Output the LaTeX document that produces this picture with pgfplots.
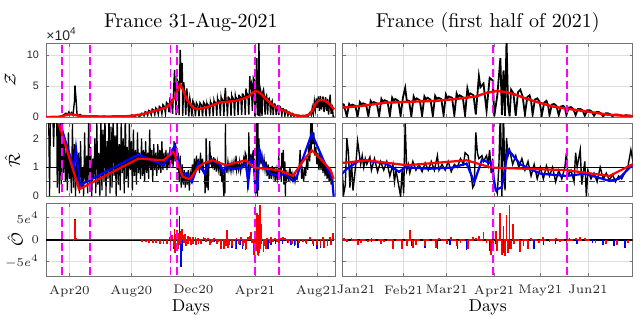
\documentclass[border=0pt]{standalone}
\usepackage{fontspec}
\setsansfont{Liberation Sans}
\usepackage{pgfplots}
\usepackage{pgfplotstable}
\pgfplotsset{compat=1.18}
\definecolor{mag}{rgb}{1,0,1}

\pgfplotstableread[row sep=\\]{d v\\
45 0\\ 60 0\\ 70 0.05\\ 75 0.15\\ 80 0.35\\ 84 0.6\\ 87 0.3\\ 90 0.8\\ 92 0.4\\ 95 0.7\\ 98 0.3\\ 101 2.5\\ 102 5.1\\ 104 3.0\\ 106 0.5\\ 108 0.2\\ 112 0.4\\ 116 0.1\\ 120 0.2\\ 130 0.05\\ 140 0.1\\ 150 0.0\\ 160 0.15\\ 165 0.0\\ 175 0.1\\ 185 0.0\\ 195 0.1\\ 205 0.05\\ 215 0.3\\ 220 0.1\\ 225 0.4\\ 228 0.15\\
231 0.16\\ 233 0.6\\ 236 0.54\\ 238 0.21\\ 240 0.83\\ 243 0.74\\ 245 0.27\\ 247 1.06\\ 250 0.92\\ 252 0.34\\ 254 1.28\\ 257 1.08\\ 259 0.39\\ 261 1.48\\ 264 1.24\\ 266 0.45\\ 268 1.71\\ 271 1.45\\ 273 0.52\\ 275 1.99\\ 278 1.67\\ 280 0.6\\ 282 2.35\\ 285 2.07\\ 287 0.77\\ 289 2.96\\ 292 2.72\\ 294 0.5\\ 296 4.2\\ 298 7.6\\ 300 3.0\\ 301 0.3\\ 303 6.0\\ 305 5.5\\ 307 0.3\\ 309 10.8\\ 311 5.5\\ 313 8.7\\ 314 0.2\\ 316 5.6\\ 318 4.0\\ 320 0.3\\ 322 4.6\\ 324 2.6\\ 326 0.1\\ 328 3.0\\ 330 2.0\\ 332 0.1\\ 334 2.6\\ 337 2.0\\ 339 0.1\\ 341 2.3\\ 344 1.8\\ 346 0.1\\ 348 2.3\\ 351 1.9\\ 353 0.1\\ 355 2.4\\ 358 2.0\\
360 0.1\\ 361.5 2.1\\ 362.5 1.7\\ 363.5 2.0\\ 365.5 1.8\\ 367 0.1\\ 368.5 2.4\\ 369.5 2.0\\ 370.5 2.2\\ 372.5 2.0\\ 374 0.15\\ 375.5 2.6\\ 376.5 2.2\\ 377.5 2.4\\ 379.5 2.2\\ 381 0.2\\ 382.5 2.9\\ 383.5 2.4\\ 384.5 2.7\\ 386.5 2.5\\ 388 0.2\\ 389.5 3.1\\ 390.5 2.6\\ 391.5 2.9\\ 393.5 2.6\\ 395 0.2\\ 396.5 3.1\\ 398 4.7\\ 399 2.7\\ 400.5 2.6\\ 402 0.1\\ 403.5 3.3\\ 404.5 2.7\\ 405.5 3.0\\ 407.5 2.7\\ 409 0.2\\ 410.5 3.3\\ 411.5 2.8\\ 412.5 3.1\\ 414.5 2.8\\ 416 0.2\\ 417.5 3.4\\ 418.5 2.9\\ 419.5 3.1\\ 421.5 2.9\\ 423 0.3\\ 424.5 3.6\\ 425.5 3.0\\ 426.5 3.3\\ 428.5 3.1\\ 430 0.3\\ 431.5 3.8\\ 432.5 3.2\\ 433.5 3.5\\ 435.5 3.2\\ 437 0.3\\ 438.5 4.6\\ 439.5 3.5\\ 440.5 3.8\\ 442.5 3.5\\
444 0.4\\ 446 6.6\\ 447 4.8\\ 449 5.4\\ 451 1.0\\ 453 6.3\\ 455 5.9\\ 456 0.1\\ 458 3.5\\ 460 9.5\\ 461 0.3\\ 462 7.5\\ 463 0.2\\ 464 12.5\\ 465 2.0\\
466 0.1\\ 467 4.4\\ 468.5 3.8\\ 470 0.2\\ 471.5 4.0\\ 473 4.4\\ 474.5 3.3\\ 476 0.4\\ 477.5 3.2\\ 479 3.5\\ 480 2.6\\ 481 0.4\\ 482.5 2.8\\ 484 3.0\\ 485.5 2.5\\ 487 0.3\\ 488.5 2.3\\ 490 2.6\\ 491 2.0\\ 492 0.3\\ 493.5 2.0\\ 495 2.1\\ 496.5 1.8\\ 498 0.3\\ 499.5 1.7\\ 501 1.8\\ 502 1.5\\ 503 0.3\\ 504.5 1.5\\ 506 1.6\\ 507.5 1.3\\ 509 0.3\\ 510.5 1.3\\ 512 1.3\\ 513.5 1.1\\ 515 0.2\\ 516.5 1.1\\ 518 1.1\\ 519.5 0.9\\ 521 0.2\\ 522.5 0.8\\ 524 0.8\\ 525.5 0.6\\ 527 0.1\\ 528.5 0.6\\ 530 0.6\\ 531.5 0.45\\ 533 0.1\\ 534.5 0.4\\ 536 0.4\\ 538 0.3\\ 540 0.1\\ 541.5 0.3\\ 543 0.25\\ 544.5 0.2\\ 546 0.05\\ 548 0.2\\ 550 0.25\\ 552 0.15\\ 554 0.05\\ 556 0.25\\ 557 0.3\\ 559 0.2\\ 561 0.1\\ 562.5 0.5\\ 564 0.7\\ 567 0.3\\ 569 1.5\\ 571 0.5\\ 573 2.5\\ 575 1.2\\ 577 3.0\\ 579 1.5\\ 581 3.3\\ 583 1.0\\ 585 3.4\\ 587 1.2\\ 590 3.3\\ 592 0.8\\ 595 3.2\\ 597 1.0\\ 599 2.9\\ 601 0.4\\ 604 3.6\\ 606 0.5\\ 608 2.0\\ 610 0.1\\ 612 0.0\\
}\zblack

\pgfplotstableread[row sep=\\]{d v\\
45 0\\ 70 0.02\\ 80 0.2\\ 91 0.45\\ 100 0.35\\ 110 0.2\\ 130 0.1\\ 160 0.08\\ 200 0.1\\ 220 0.25\\ 235 0.45\\ 250 0.8\\ 265 1.1\\ 280 1.5\\ 290 2.1\\ 299 3.3\\ 305 4.6\\ 309 5.2\\ 314 4.5\\ 322 2.8\\ 335 1.45\\ 345 1.25\\ 357 1.5\\ 370 1.8\\ 385 2.3\\ 400 2.45\\ 418 2.6\\ 431 2.9\\ 444 3.3\\ 451 3.9\\ 458 4.2\\ 464 4.0\\ 470 3.6\\ 475 3.1\\ 484 2.4\\ 494 1.7\\ 503 1.35\\ 516 0.9\\ 529 0.4\\ 540 0.2\\ 548 0.15\\ 556 0.2\\ 564 0.45\\ 570 1.2\\ 576 2.2\\ 582 2.7\\ 590 2.75\\ 600 2.3\\ 606 1.8\\ 612 1.2\\
}\zred

\pgfplotstableread[row sep=\\]{d v\\
45 3\\ 50 3\\ 52 0.0\\ 54 3\\ 58 3\\ 60 1.7\\ 62 3\\ 66 3\\ 67 0.3\\ 69 3\\ 71 0.1\\ 73 2.6\\ 75 0.4\\ 77 3\\ 79 0.8\\ 81 2.0\\ 83 0.5\\ 85 1.6\\ 87 0.2\\ 89 2.2\\ 91 0.6\\ 93 1.3\\ 95 0.1\\ 97 2.5\\ 99 0.3\\ 101 1.8\\ 103 0.0\\ 105 1.2\\ 107 0.4\\ 109 1.5\\ 111 0.1\\ 113 1.9\\ 115 0.3\\ 117 1.0\\ 119 0.0\\ 121 2.2\\ 123 0.5\\ 125 1.4\\ 127 0.1\\ 129 3.0\\ 131 0.3\\ 133 1.7\\ 135 0.0\\ 137 1.3\\ 139 0.6\\ 141 2.0\\ 143 0.1\\ 145 2.6\\ 147 0.4\\ 149 1.5\\ 151 0.0\\ 153 3.0\\ 155 0.2\\ 157 2.3\\ 159 0.5\\ 161 3.0\\ 163 0.0\\ 165 1.9\\ 167 0.6\\ 169 3.0\\ 171 0.1\\ 173 2.4\\ 175 0.3\\ 177 3.0\\ 179 0.7\\ 181 2.1\\ 183 0.0\\ 185 3.0\\ 187 0.4\\ 189 1.8\\ 191 0.2\\ 193 2.7\\ 195 0.8\\ 197 2.0\\ 199 0.1\\ 201 3.0\\ 203 0.6\\ 205 1.7\\ 207 0.3\\ 209 2.5\\ 211 0.9\\ 213 1.9\\ 215 0.2\\ 217 2.3\\ 219 0.7\\ 221 1.6\\ 223 0.4\\ 225 2.2\\ 227 0.8\\ 229 1.5\\ 231 0.6\\ 233 2.0\\ 235 0.7\\ 237 1.6\\ 239 0.5\\ 241 1.9\\ 243 0.8\\ 245 1.5\\ 247 0.6\\ 249 2.3\\ 251 0.9\\ 253 1.6\\ 255 0.5\\ 257 1.8\\ 259 0.9\\ 261 1.5\\ 263 0.7\\ 265 1.8\\ 267 0.9\\ 269 1.6\\ 271 0.8\\ 273 1.9\\ 275 0.9\\ 277 1.5\\ 279 1.0\\ 281 1.6\\ 283 0.9\\ 285 1.5\\ 287 1.0\\ 289 1.7\\ 291 1.1\\ 293 1.6\\ 295 1.0\\ 297 1.9\\ 299 1.2\\ 301 1.7\\ 303 0.9\\ 305 1.5\\ 307 0.5\\ 309 1.4\\ 311 0.3\\ 313 1.1\\ 315 0.4\\ 317 0.9\\ 319 0.3\\ 321 0.8\\ 323 0.4\\ 325 0.9\\ 327 0.2\\ 329 0.8\\ 331 0.6\\ 333 1.1\\ 335 0.7\\ 337 1.3\\ 339 0.8\\ 341 1.4\\ 343 0.9\\ 345 1.3\\ 347 0.8\\ 349 1.5\\ 351 0.9\\ 353 1.3\\ 355 0.9\\
357 0.8\\ 358 0.1\\ 359 0.4\\ 360 2.0\\ 361 1.5\\ 362 0.3\\ 363 1.2\\ 364 0.2\\ 366 1.2\\ 367 1.9\\ 368 1.5\\ 369 1.1\\ 370 1.4\\ 371 1.0\\ 372 1.3\\ 373 1.1\\ 375 1.35\\ 376 0.9\\ 378 1.3\\ 380 0.85\\ 382 1.2\\ 384 0.9\\ 386 1.2\\ 388 0.7\\ 390 1.1\\ 391 0.5\\ 392 0.9\\ 393 0.6\\ 394 0.3\\ 395 0.0\\ 396 0.9\\ 397 0.1\\ 398 2.5\\ 399 0.9\\ 400 1.1\\ 401 0.8\\ 403 1.2\\ 405 0.9\\ 407 1.1\\ 409 0.85\\ 411 1.15\\ 413 0.9\\ 415 1.2\\ 417 0.9\\ 419 1.4\\ 420 0.9\\ 422 1.1\\ 424 0.9\\ 426 1.2\\ 428 0.85\\ 430 1.1\\ 432 1.0\\ 434 1.3\\ 436 1.1\\ 437 1.5\\ 439 1.4\\ 440 1.0\\ 441 0.7\\ 442 0.3\\ 443 0.4\\ 444 2.2\\ 445 1.5\\ 446 1.3\\ 448 1.4\\ 449 1.2\\ 451 1.4\\ 452 1.1\\ 453 1.6\\ 454 0.8\\ 455 1.3\\ 456 0.4\\ 458 0.1\\ 459 1.0\\ 460 3.0\\ 461 0.0\\ 462 3.0\\ 463 0.2\\ 464 2.0\\ 465 1.4\\ 466 1.6\\ 468 1.1\\ 470 1.4\\ 472 1.0\\ 474 1.3\\ 476 0.9\\ 478 1.2\\ 480 0.7\\ 482 1.1\\ 484 0.6\\ 486 1.0\\ 488 0.6\\ 490 1.05\\ 492 0.7\\ 494 1.0\\ 496 0.5\\ 498 0.9\\ 500 0.6\\ 502 1.0\\ 503 1.5\\ 504 0.7\\ 506 0.9\\ 508 0.5\\ 509 1.5\\ 510 1.0\\ 512 1.6\\ 513 0.4\\ 515 1.2\\ 516 0.0\\ 517 0.9\\ 519 0.6\\ 521 0.8\\ 523 0.5\\ 525 1.0\\ 527 0.6\\ 529 0.8\\ 531 0.55\\ 533 0.75\\ 535 0.5\\ 537 0.7\\ 539 0.6\\ 541 0.8\\ 543 1.0\\ 545 1.6\\ 546 1.3\\
548 0.6\\ 550 0.9\\ 552 0.5\\ 554 1.0\\ 556 0.7\\ 558 1.3\\ 560 0.9\\ 562 1.8\\ 564 1.2\\ 566 2.6\\ 567 1.5\\ 568 3.0\\ 570 1.8\\ 572 2.2\\ 574 1.4\\ 576 1.7\\ 578 1.1\\ 580 1.5\\ 582 0.9\\ 584 1.5\\ 586 0.9\\ 588 1.3\\ 590 0.8\\ 592 1.2\\ 594 0.7\\ 596 1.1\\ 598 0.6\\ 600 1.0\\ 602 0.5\\ 604 0.9\\ 606 0.4\\ 608 0.8\\ 610 0.2\\ 611 0.0\\
}\rblack

\pgfplotstableread[row sep=\\]{d v\\
64 2.85\\ 110 0.24\\ 227 1.3\\ 276 1.24\\ 296 1.53\\ 314 0.67\\ 328 0.59\\ 345 1.01\\ 357 1.15\\ 373 1.24\\ 399 1.07\\ 438 1.24\\ 454 0.99\\ 503 0.9\\ 531 0.7\\ 546 1.1\\ 568 1.59\\ 590 1.2\\ 605 0.9\\ 611 0.6\\
}\rred

\pgfplotstableread[row sep=\\]{d v\\
66 2.9\\ 100 0.95\\ 104 1.65\\ 112 0.38\\ 227 1.44\\ 276 1.07\\ 299 1.76\\ 312 0.72\\ 322 0.8\\ 332 0.49\\ 345 1.15\\ 357 0.78\\ 360 0.95\\ 369 1.26\\ 386 1.12\\ 394 0.84\\ 398 1.0\\ 414 0.95\\ 429 0.99\\ 438 1.13\\ 443 0.49\\ 448 1.26\\ 454 1.13\\ 457 0.21\\ 461 0.32\\ 465 1.61\\ 473 1.1\\ 486 0.78\\ 503 0.7\\ 515 0.78\\ 531 0.53\\ 537 0.6\\ 546 1.08\\ 568 2.16\\ 591 1.24\\ 608 0.6\\ 611 0.0\\
}\rblue

\pgfplotstableread[row sep=\\]{d v\\
99 -0.4\\ 101 0.5\\ 102 4.4\\ 105 0.3\\ 234 -0.5\\ 241 -0.6\\ 248 -0.7\\ 255 -0.8\\ 262 -0.8\\ 269 -0.9\\ 276 -1.0\\ 283 -1.0\\ 288 0.6\\ 290 -1.2\\ 293 1.0\\ 296 -1.6\\ 298 2.5\\ 299 -3.0\\ 300 1.2\\ 303 2.2\\ 304 -2.0\\ 306 1.5\\ 307 -1.2\\ 310 2.0\\ 311 -1.0\\ 312 2.5\\ 315 1.0\\ 316 -0.8\\ 319 1.3\\ 320 -1.5\\ 324 0.8\\ 325 -1.0\\ 329 0.6\\ 330 -1.3\\ 334 0.5\\ 335 -1.0\\ 339 0.7\\ 340 -1.2\\ 344 0.4\\ 345 -0.8\\ 350 -1.0\\ 355 0.5\\ 358 0.3\\ 360 -0.5\\ 363 0.3\\ 367 -1.3\\ 369 -0.8\\ 374 -0.6\\ 376 0.3\\ 382 -1.0\\ 384 -0.6\\ 390 -2.0\\ 396 -2.0\\ 399 -1.5\\ 401 2.1\\ 403 -1.8\\ 405 -1.2\\ 411 -1.5\\ 418 -1.8\\ 420 0.4\\ 425 -1.0\\ 428 0.5\\ 432 -1.5\\ 434 -0.8\\ 439 -2.0\\ 442 0.6\\ 444 0.3\\ 446 0.8\\ 449 1.7\\ 451 -0.8\\ 454 -3.5\\ 455 -1.5\\ 457 2.0\\ 458 -2.5\\ 460 6.0\\ 461 -3.5\\ 462 3.0\\ 463 -3.8\\ 464 5.5\\ 465 -3.0\\ 466 7.8\\ 467 -2.0\\ 468 3.5\\ 469 -1.0\\ 473 -2.8\\ 475 -1.5\\ 478 -2.0\\ 480 0.3\\ 485 -0.8\\ 488 0.5\\ 492 -0.5\\ 496 0.3\\ 499 -0.6\\ 503 -0.8\\ 505 0.4\\ 509 0.3\\ 512 0.6\\ 515 0.3\\ 518 -0.3\\ 522 -0.8\\ 529 -1.0\\ 536 -1.2\\ 543 -0.8\\ 550 -0.5\\ 557 -0.8\\ 564 0.5\\ 571 -1.0\\ 578 -1.2\\ 585 -1.5\\ 590 0.5\\ 592 -1.8\\ 599 -1.5\\ 603 0.6\\ 606 -1.2\\ 609 1.4\\
}\ored

\pgfplotstableread[row sep=\\]{d v\\
102 4.7\\ 297 -2.0\\ 303 2.0\\ 308 5.4\\ 310 -3.0\\ 311 -6.2\\ 313 -2.5\\ 320 -1.0\\ 330 -0.8\\ 345 -1.0\\ 376 -0.6\\ 390 -1.3\\ 402 -1.5\\ 411 -1.8\\ 419 -2.0\\ 427 -1.2\\ 432 -2.2\\ 438 -2.3\\ 453 -2.5\\ 457 -1.0\\ 460 5.9\\ 462 -3.0\\ 464 3.0\\ 466 -2.0\\ 475 -1.0\\ 482 -2.0\\ 488 -1.2\\ 496 -0.9\\ 510 -1.0\\ 520 -0.8\\ 527 -1.2\\ 534 -1.5\\ 541 -1.8\\ 557 -1.0\\ 571 -1.5\\ 578 -2.0\\ 585 -1.8\\ 592 -1.5\\ 599 -1.0\\ 606 -1.3\\
}\oblue

\pgfplotsset{
  panel/.style={
    scale only axis,
    axis line style={draw=black!55, line width=0.4pt},
    tick style={draw=black!55, line width=0.35pt},
    major tick length=1.6pt,
    tick align=inside,
    xmajorgrids, ymajorgrids,
    major grid style={draw=black!13, line width=0.35pt},
    /pgf/number format/assume math mode=true,
    yticklabel style={font=\sffamily\fontsize{5.4}{6}\selectfont, text=black!85},
    xticklabel style={font=\fontsize{6.2}{7}\selectfont, text=black!85, yshift=-1.2pt},
    xlabel style={font=\fontsize{8.6}{10}\selectfont, at={(rel axis cs:0.5,-0.433)}, anchor=center},
    title style={font=\fontsize{10}{12}\selectfont, at={(rel axis cs:0.5,1)}, anchor=base, yshift=2.1pt},
    ylabel style={font=\fontsize{8}{10}\selectfont},
  },
  leftp/.style={panel, width=144.85pt, xmin=45, xmax=615, xtick={91,213,335,456,578}},
  rightp/.style={panel, width=145pt, xmin=-8.7, xmax=180.2, xtick={0,31,59,90,120,151}, yticklabels={}},
  zrow/.style={height=36.75pt, ymin=0, ymax=11.85, ytick={0,5,10}, xticklabels={}},
  rrow/.style={height=36.25pt, ymin=0, ymax=2.5, ytick={0,1,2}, xticklabels={}},
  orow/.style={height=36.35pt, ymin=-8.2, ymax=8.2, ytick={-5,0,5}},
}
\newcommand\magL{%
  \addplot[color=mag, line width=0.9pt, dash pattern=on 4pt off 2pt] coordinates {(76,-100) (76,100)};
  \addplot[color=mag, line width=0.9pt, dash pattern=on 4pt off 2pt] coordinates {(131,-100) (131,100)};
  \addplot[color=mag, line width=0.9pt, dash pattern=on 4pt off 2pt] coordinates {(290,-100) (290,100)};
  \addplot[color=mag, line width=0.9pt, dash pattern=on 4pt off 2pt] coordinates {(303,-100) (303,100)};
  \addplot[color=mag, line width=0.9pt, dash pattern=on 4pt off 2pt] coordinates {(456,-100) (456,100)};
  \addplot[color=mag, line width=0.9pt, dash pattern=on 4pt off 2pt] coordinates {(504,-100) (504,100)};
}
\newcommand\magR{%
  \addplot[color=mag, line width=1pt, dash pattern=on 4pt off 2pt] coordinates {(89,-100) (89,100)};
  \addplot[color=mag, line width=1pt, dash pattern=on 4pt off 2pt] coordinates {(137.5,-100) (137.5,100)};
}

\begin{document}
\begin{tikzpicture}
\path[use as bounding box] (0,0) rectangle (320pt,158.5pt);

% ---------- left column ----------
\begin{axis}[leftp, zrow, at={(23pt,136.75pt)}, anchor=north west,
  title={France 31-Aug-2021},
  ylabel={$\mathcal{Z}$}, ylabel style={at={(rel axis cs:-0.124,0.5)}, anchor=center},
  extra description/.code={\node[anchor=south west, inner sep=0pt, font=\sffamily\fontsize{7}{8}\selectfont, text=black!85] at (0.0,1.03) {×10\textsuperscript{4}};}]
\addplot[black, line width=0.7pt] table[x=d,y=v]{\zblack};
\addplot[red, line width=1.2pt] table[x=d,y=v]{\zred};
\magL
\end{axis}

\begin{axis}[leftp, rrow, at={(23pt,96.6pt)}, anchor=north west,
  ylabel={$\hat{\mathcal{R}}$}, ylabel style={at={(rel axis cs:-0.116,0.5)}, anchor=center}]
\addplot[black, line width=0.6pt] table[x=d,y=v]{\rblack};
\addplot[black, line width=0.4pt] coordinates {(0,1) (700,1)};
\addplot[black!75, line width=0.5pt, dash pattern=on 3pt off 2pt] coordinates {(0,0.5) (700,0.5)};
\addplot[blue, line width=1.1pt] table[x=d,y=v]{\rblue};
\addplot[red, line width=1.1pt] table[x=d,y=v]{\rred};
\magL
\end{axis}

\begin{axis}[leftp, orow, at={(23pt,56.85pt)}, anchor=north west,
  xticklabels={Apr20,Aug20,Dec20,Apr21,Aug21},
  yticklabels={$-5e^{4}$,$0$,$5e^{4}$},
  yticklabel style={font=\fontsize{6}{7}\selectfont},
  xlabel={Days},
  ylabel={$\hat{\mathcal{O}}$}, ylabel style={at={(rel axis cs:-0.107,0.5)}, anchor=center}]
\addplot[black, line width=1pt] coordinates {(45,0) (612,0)};
\addplot[red, line width=0.8pt] coordinates {(80,0) (612,0)};
\addplot[blue, line width=0.7pt, ycomb] table[x=d,y=v]{\oblue};
\addplot[red, line width=0.9pt, ycomb] table[x=d,y=v]{\ored};
\magL
\end{axis}

% ---------- right column ----------
\begin{axis}[rightp, zrow, at={(171.35pt,136.75pt)}, anchor=north west,
  title={France (first half of 2021)}]
\addplot[black, line width=0.9pt] table[x expr=\thisrow{d}-366,y=v]{\zblack};
\addplot[red, line width=1.2pt] table[x expr=\thisrow{d}-366,y=v]{\zred};
\magR
\end{axis}

\begin{axis}[rightp, rrow, at={(171.35pt,96.6pt)}, anchor=north west]
\addplot[black, line width=0.7pt] table[x expr=\thisrow{d}-366,y=v]{\rblack};
\addplot[black, line width=0.4pt] coordinates {(-50,1) (300,1)};
\addplot[black!75, line width=0.5pt, dash pattern=on 3pt off 2pt] coordinates {(-50,0.5) (300,0.5)};
\addplot[blue, line width=1.1pt] table[x expr=\thisrow{d}-366,y=v]{\rblue};
\addplot[red, line width=1.1pt] table[x expr=\thisrow{d}-366,y=v]{\rred};
\magR
\end{axis}

\begin{axis}[rightp, orow, at={(171.35pt,56.85pt)}, anchor=north west,
  xticklabels={Jan21,Feb21,Mar21,Apr21,May21,Jun21},
  xlabel={Days}]
\addplot[black, line width=1pt] coordinates {(-9,0) (181,0)};
\addplot[red, line width=0.9pt, dash pattern=on 3pt off 1.5pt] coordinates {(-9,0) (152,0)};
\addplot[blue, line width=0.8pt, ycomb] table[x expr=\thisrow{d}-366,y=v]{\oblue};
\addplot[red, line width=0.9pt, ycomb] table[x expr=\thisrow{d}-366,y=v]{\ored};
\magR
\end{axis}
\end{tikzpicture}
\end{document}
